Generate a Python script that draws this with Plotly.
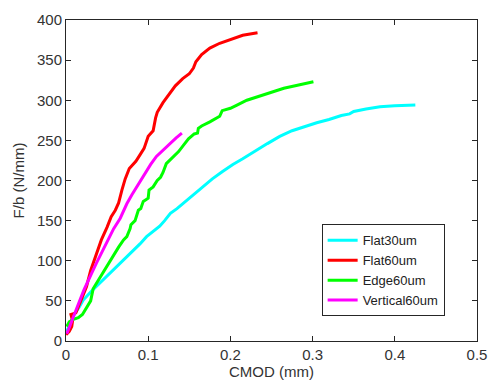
import plotly.graph_objects as go

# Flat30um (cyan)
flat30_x = [0.001,0.005,0.010,0.016,0.021,0.030,0.041,0.051,0.062,0.072,0.082,0.090,0.098,0.106,0.114,0.120,0.127,0.135,0.143,0.150,0.158,0.167,0.178,0.190,0.203,0.215,0.230,0.245,0.260,0.275,0.290,0.305,0.320,0.335,0.345,0.350,0.365,0.382,0.400,0.415,0.425]
flat30_y = [12,22,33,42,51,61,72,82,92,102,113,121,130,137,143,150,159,165,172,178,185,193,202,211,220,227,237,246,255,262,267,272,276,281,283,286,289,292,293,294,294]

# Flat60um (red)
flat60_x = [0.000,0.004,0.007,0.008,0.006,0.012,0.018,0.025,0.030,0.037,0.043,0.050,0.055,0.060,0.064,0.068,0.072,0.077,0.085,0.090,0.095,0.100,0.106,0.109,0.111,0.118,0.125,0.133,0.142,0.150,0.155,0.158,0.165,0.175,0.187,0.200,0.215,0.233]
flat60_y = [8,12,18,25,33,35,50,68,88,108,126,142,155,163,172,188,202,215,224,232,240,255,262,278,285,297,307,318,327,333,340,348,357,365,371,376,381,384]

# Edge60um (green)
edge60_x = [0.001,0.004,0.009,0.015,0.020,0.027,0.030,0.033,0.036,0.041,0.047,0.054,0.060,0.064,0.070,0.074,0.078,0.079,0.084,0.088,0.091,0.094,0.100,0.101,0.106,0.111,0.115,0.118,0.122,0.129,0.137,0.143,0.149,0.156,0.160,0.161,0.165,0.175,0.187,0.190,0.200,0.208,0.220,0.235,0.250,0.265,0.283,0.301]
edge60_y = [18,24,27,29,33,45,50,65,70,80,90,101,110,117,126,130,140,145,150,163,165,174,178,188,192,200,204,210,221,228,236,244,252,258,259,265,268,273,280,287,290,294,300,305,310,315,319,323]

# Vertical60um (magenta)
vert60_x = [0.001,0.005,0.009,0.013,0.017,0.022,0.027,0.032,0.037,0.044,0.051,0.058,0.066,0.074,0.080,0.086,0.091,0.096,0.103,0.110,0.118,0.127,0.134,0.141]
vert60_y = [9,20,30,40,51,64,76,86,97,112,126,140,153,171,182,192,200,209,220,230,238,246,253,259]

series = [
    ("Flat30um", flat30_x, flat30_y, "#00FFFF"),
    ("Flat60um", flat60_x, flat60_y, "#FF0000"),
    ("Edge60um", edge60_x, edge60_y, "#00FF00"),
    ("Vertical60um", vert60_x, vert60_y, "#FF00FF"),
]

x_ticks = [0, 0.1, 0.2, 0.3, 0.4, 0.5]
x_tick_labels = ["0", "0.1", "0.2", "0.3", "0.4", "0.5"]
y_ticks = [0, 50, 100, 150, 200, 250, 300, 350, 400]

fig = go.Figure()
for name, xs, ys, col in series:
    fig.add_trace(go.Scatter(x=xs, y=ys, mode="lines", name=name,
                             line=dict(color=col, width=3)))

axis_common = dict(showgrid=False, zeroline=False, showline=True, linecolor="#262626",
                   linewidth=1, mirror="ticks", ticks="inside", ticklen=5,
                   tickcolor="#262626", automargin=False,
                   tickfont=dict(family="Liberation Sans, Arial", size=15, color="#333333"))

fig.update_layout(
    width=489, height=387,
    margin=dict(l=66, r=12, t=20, b=46),
    paper_bgcolor="white", plot_bgcolor="white",
    font=dict(family="Liberation Sans, Arial", size=15, color="#333333"),
    xaxis=dict(range=[0, 0.5], tickvals=x_ticks, ticktext=x_tick_labels,
               title=dict(text="CMOD (mm)", font=dict(size=15), standoff=4), **axis_common),
    yaxis=dict(range=[0, 400], tickvals=y_ticks,
               title=dict(text="F/b (N/mm)", font=dict(size=15), standoff=8), **axis_common),
    legend=dict(x=0.622, y=0.22, xanchor="left", yanchor="middle",
                bordercolor="#262626", borderwidth=1, bgcolor="white",
                font=dict(size=13, color="#222222"), tracegroupgap=0,
                itemwidth=30),
    showlegend=True,
)

fig.write_html("out.html", config={"displayModeBar": False},
               post_script="document.body.style.margin='0';document.body.style.overflow='hidden';")
